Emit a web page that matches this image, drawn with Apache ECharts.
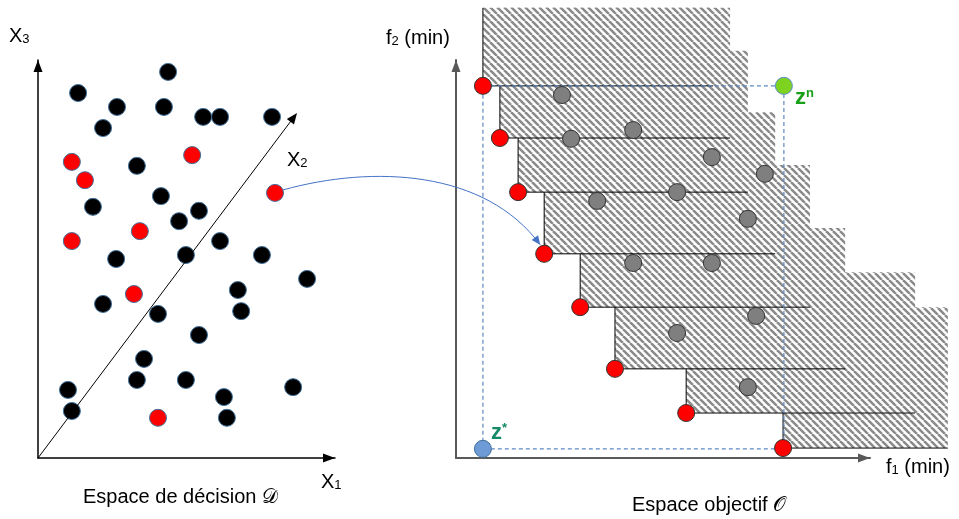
<!DOCTYPE html>
<html><head><meta charset="utf-8">
<script src="https://cdn.jsdelivr.net/npm/echarts@6/dist/echarts.min.js"></script>
<style>html,body{margin:0;padding:0;background:#fff}#c{width:959px;height:519px}</style>
</head><body><div id="c"></div>
<script>
// ---------- Decision space (left panel), arbitrary units 0..100 ----------
const decBlackX = [43.8,13.5,26.6,42.4,55.6,61.3,78.8,21.9,33.3,41.4,18.5,54.2,47.5,61.3,26.3,49.8,75.4,90.6,67.3,21.9,68.4,40.4,54.2,35.7,33.3,49.8,85.9,10.1,62.6,11.4,63.6];
const decBlackY = [97.0,91.7,88.2,88.2,85.7,85.7,85.7,82.9,73.4,65.8,63.1,62.1,59.5,54.5,50.0,51.0,51.0,45.0,42.2,38.7,36.9,36.2,30.9,24.9,19.6,19.6,17.8,17.1,15.3,11.8,10.1];
const decRedX = [11.4,51.9,15.8,79.8,34.3,11.4,32.3,40.4];
const decRedY = [74.4,76.1,69.8,66.6,57.0,54.5,41.2,10.1];
const linkedRed = 3;          // red solution mapped to objective space
const linkedPareto = 3;       // its image on the Pareto front
const x2AxisEnd = [86.1, 85.6];

// ---------- Objective space (right panel), arbitrary units ----------
const paretoF1 = [6.5, 10.6, 15.0, 21.3, 30.0, 38.4, 55.6, 79.0];
const paretoF2 = [93.5, 80.4, 66.8, 51.3, 37.9, 22.4, 11.3, 2.5];
const domF1Max = [62.1, 66.2, 70.5, 77.1, 85.5, 94.0, 110.9, 118.8];
const domF2Max = [113.1, 113.1, 102.3, 86.9, 73.6, 57.8, 46.7, 37.9];
const dominatedF1 = [25.6, 27.8, 42.8, 61.8, 34.1, 53.4, 74.6, 70.5, 42.8, 61.8, 72.5, 53.4, 70.5];
const dominatedF2 = [91.2, 80.2, 82.4, 75.6, 64.6, 66.8, 71.4, 60.1, 49.0, 49.0, 35.7, 31.4, 17.8];
const idealPoint = [6.5, 2.3];
const nadirPoint = [79.2, 93.5];

const FONT = '"Liberation Sans", Arial, sans-serif';
const zip = (a, b) => a.map((v, i) => [v, b[i]]);

function makeHatch() {
  const s = 7, c = document.createElement('canvas');
  c.width = s; c.height = s;
  const g = c.getContext('2d');
  g.fillStyle = '#ffffff'; g.fillRect(0, 0, s, s);
  g.strokeStyle = '#8a8a8a'; g.lineWidth = 2.5;
  for (const k of [-1, 0, 1]) { g.beginPath(); g.moveTo(k * s, 0); g.lineTo(k * s + s, s); g.stroke(); }
  return c;
}
const hatch = makeHatch();

function axis(gridIndex, color, width) {
  return {
    type: 'value', gridIndex, min: 0, max: 100,
    axisLine: { show: true, onZero: false, lineStyle: { color, width },
      symbol: ['none', 'triangle'], symbolSize: [9, 12], symbolOffset: [0, -6] },
    axisTick: { show: false }, axisLabel: { show: false }, splitLine: { show: false }
  };
}

// dominated boxes, drawn so that the first Pareto point's box is on top
const domBoxes = paretoF1.map((x, i) => [x, paretoF2[i], domF1Max[i], domF2Max[i]]).reverse();
const boxOutline = [
  [idealPoint[0], idealPoint[1]], [idealPoint[0], nadirPoint[1]],
  [nadirPoint[0], nadirPoint[1]], [nadirPoint[0], idealPoint[1]], [idealPoint[0], idealPoint[1]]
];

function pts(data, color, border, z) {
  return { type: 'scatter', data, symbolSize: 17, z, silent: true,
    itemStyle: { color, borderColor: border, borderWidth: 1, opacity: 1 }, emphasis: { disabled: true } };
}

const chart = echarts.init(document.getElementById('c'));
chart.setOption({
  animation: false,
  backgroundColor: '#ffffff',
  grid: [
    { left: 38, top: 60, width: 297, height: 398 },
    { left: 456, top: 60, width: 414, height: 398 }
  ],
  xAxis: [axis(0, '#000000', 1.5), axis(1, '#595959', 2)],
  yAxis: [axis(0, '#000000', 1.5), axis(1, '#595959', 2)],
  series: [
    Object.assign(pts(zip(decBlackX, decBlackY), '#000000', '#41719C', 3), {
      xAxisIndex: 0, yAxisIndex: 0,
      markLine: {
        silent: true, symbol: ['none', 'triangle'], symbolSize: [9, 11],
        lineStyle: { color: '#000000', width: 1, type: 'solid', opacity: 1 }, label: { show: false },
        data: [[{ coord: [0, 0] }, { coord: x2AxisEnd }]]
      }
    }),
    Object.assign(pts(zip(decRedX, decRedY), '#FF0000', '#41719C', 3), { xAxisIndex: 0, yAxisIndex: 0 }),
    {
      type: 'custom', xAxisIndex: 1, yAxisIndex: 1, data: domBoxes, z: 1, silent: true,
      renderItem: function (params, api) {
        const p1 = api.coord([api.value(0), api.value(1)]);
        const p2 = api.coord([api.value(2), api.value(3)]);
        return {
          type: 'group', children: [
            { type: 'rect', shape: { x: p1[0], y: p2[1], width: p2[0] - p1[0], height: p1[1] - p2[1] },
              style: { fill: { image: hatch, repeat: 'repeat' } } },
            { type: 'polyline', shape: { points: [[p1[0], p2[1]], [p1[0], p1[1]], [p2[0], p1[1]]] },
              style: { stroke: '#000000', lineWidth: 1, fill: null } }
          ]
        };
      }
    },
    {
      type: 'line', xAxisIndex: 1, yAxisIndex: 1, data: boxOutline, symbol: 'none', z: 2, silent: true,
      lineStyle: { color: '#5E88C4', width: 1.2, type: [4, 3] }
    },
    Object.assign(pts(zip(dominatedF1, dominatedF2), '#7F7F7F', '#333333', 3), { xAxisIndex: 1, yAxisIndex: 1 }),
    Object.assign(pts(zip(paretoF1, paretoF2), '#FF0000', '#333333', 4), { xAxisIndex: 1, yAxisIndex: 1 }),
    Object.assign(pts([idealPoint], '#6E9BD6', '#41719C', 4), { xAxisIndex: 1, yAxisIndex: 1 }),
    Object.assign(pts([nadirPoint], '#7ED321', '#5B8DC9', 4), { xAxisIndex: 1, yAxisIndex: 1 })
  ]
});

// ---------- annotations anchored on data points ----------
const pL = chart.convertToPixel({ gridIndex: 0 }, [decRedX[linkedRed], decRedY[linkedRed]]);
const pR = chart.convertToPixel({ gridIndex: 1 }, [paretoF1[linkedPareto], paretoF2[linkedPareto]]);
const pIdeal = chart.convertToPixel({ gridIndex: 1 }, idealPoint);
const pNadir = chart.convertToPixel({ gridIndex: 1 }, nadirPoint);
const S = [pL[0] + 8, pL[1] - 3], E = [pR[0] - 4, pR[1] - 9];
const C1 = [S[0] + 90, S[1] - 25], C2 = [E[0] - 55, E[1] - 75];
const dx = E[0] - C2[0], dy = E[1] - C2[1], dl = Math.hypot(dx, dy);
const ux = dx / dl, uy = dy / dl, L = 9, W = 4;
const arrowHead = [E, [E[0] - ux * L - uy * W, E[1] - uy * L + ux * W], [E[0] - ux * L + uy * W, E[1] - uy * L - ux * W]];

const sub = { fontSize: 13, verticalAlign: 'bottom', fontFamily: FONT, fill: '#000' };
const main = { fontSize: 20, fontFamily: FONT, fill: '#000' };
function label(x, y, text) {
  return { type: 'text', x, y, z: 10, style: { text, fontFamily: FONT, fontSize: 20, fill: '#000',
    verticalAlign: 'middle', rich: { m: main, s: sub } } };
}
function zLabel(x, y, sup, color) {
  return { type: 'text', z: 10, x, y, style: { text: '{z|z}{s|' + sup + '}', verticalAlign: 'middle',
    rich: { z: { fontSize: 22, fontWeight: 'bold', fontFamily: FONT, fill: color },
            s: { fontSize: 13, fontWeight: 'bold', verticalAlign: 'top', fontFamily: FONT, fill: color } } } };
}

chart.setOption({
  graphic: [
    { type: 'bezierCurve', z: 10, shape: { x1: S[0], y1: S[1], cpx1: C1[0], cpy1: C1[1], cpx2: C2[0], cpy2: C2[1], x2: E[0], y2: E[1] },
      style: { stroke: '#4472C4', lineWidth: 1, fill: null } },
    { type: 'polygon', z: 10, shape: { points: arrowHead }, style: { fill: '#4472C4' } },
    label(9, 36, '{m|X}{s|3}'),
    label(287, 160, '{m|X}{s|2}'),
    label(321, 482, '{m|X}{s|1}'),
    label(386, 38, '{m|f}{s|2}{m| (min)}'),
    label(886, 467, '{m|f}{s|1}{m| (min)}'),
    label(83, 497, 'Espace de décision 𝒟'),
    label(632, 505, 'Espace objectif 𝒪'),
    zLabel(pIdeal[0] + 8, pIdeal[1] - 16, '*', '#168A68'),
    zLabel(pNadir[0] + 11, pNadir[1] + 12, 'n', '#18A018')
  ]
});
</script></body></html>
